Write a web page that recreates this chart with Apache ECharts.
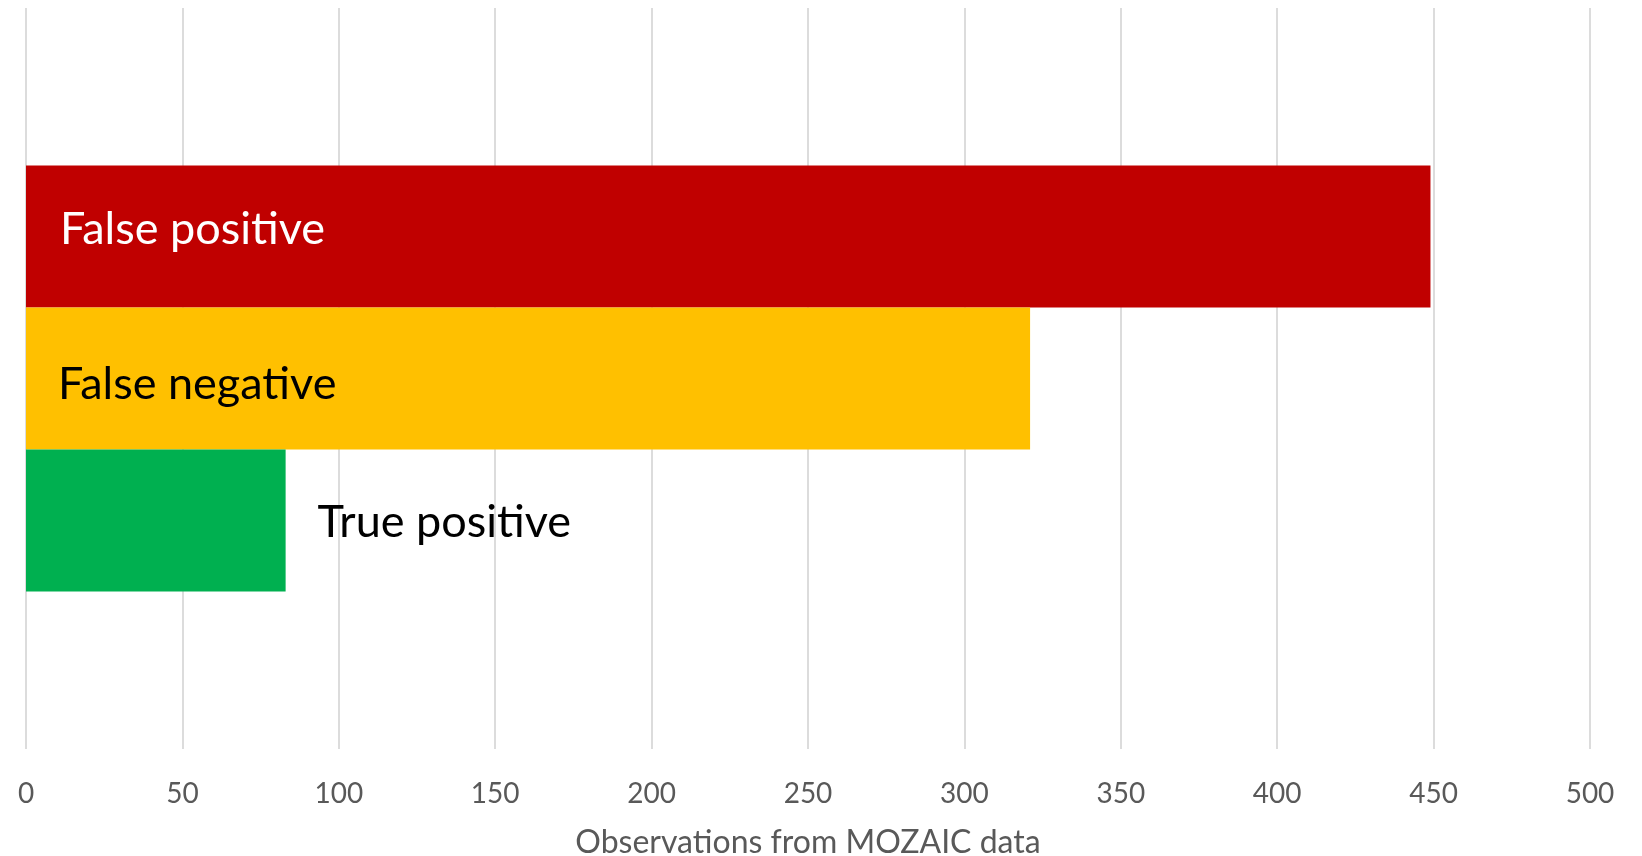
<!DOCTYPE html>
<html>
<head>
<meta charset="utf-8">
<script src="https://cdn.jsdelivr.net/npm/echarts@6/dist/echarts.min.js"></script>
<style>html,body{margin:0;padding:0;background:#fff}#c{width:1642px;height:856px}</style>
</head>
<body>
<div id="c"></div>
<script>
const categories = ['MOZAIC'];
const seriesNames = ['False positive', 'False negative', 'True positive'];
const seriesValues = [[449], [321], [83]];
const seriesColors = ['#C00000', '#FFC000', '#00B050'];
const xTicks = [0, 50, 100, 150, 200, 250, 300, 350, 400, 450, 500];
const axisTitle = 'Observations from MOZAIC data';

const FONT = 'Lato';
const labelStyles = [
  {position: 'insideLeft', distance: 34, color: '#fff', offset: [0, -7]},
  {position: 'insideLeft', distance: 32, color: '#000', offset: [0, 6]},
  {position: 'right', distance: 32, color: '#000', offset: [0, 2]}
];

const chart = echarts.init(document.getElementById('c'));
chart.setOption({
  animation: false,
  backgroundColor: '#fff',
  grid: {left: 26, right: 52, top: 8, bottom: 107, containLabel: false, outerBoundsMode: 'none'},
  xAxis: {
    type: 'value', min: xTicks[0], max: xTicks[xTicks.length - 1], interval: 50,
    axisLine: {show: false}, axisTick: {show: false},
    splitLine: {show: true, lineStyle: {color: '#d4d4d4', width: 1.6}},
    axisLabel: {color: '#595959', fontFamily: FONT, fontSize: 28, margin: 31},
    name: axisTitle, nameLocation: 'middle', nameGap: 78,
    nameTextStyle: {color: '#595959', fontFamily: FONT, fontSize: 32}
  },
  yAxis: {
    type: 'category', data: categories,
    axisLine: {show: false}, axisTick: {show: false}, axisLabel: {show: false},
    splitLine: {show: false}
  },
  series: seriesNames.map((n, i) => ({
    name: n, type: 'bar', data: seriesValues[i], barWidth: 142, barGap: '0%',
    itemStyle: {color: seriesColors[i]},
    label: {
      show: true, formatter: n, position: labelStyles[i].position,
      distance: labelStyles[i].distance, color: labelStyles[i].color,
      offset: labelStyles[i].offset,
      fontFamily: FONT, fontSize: 45
    }
  }))
});
</script>
</body>
</html>
